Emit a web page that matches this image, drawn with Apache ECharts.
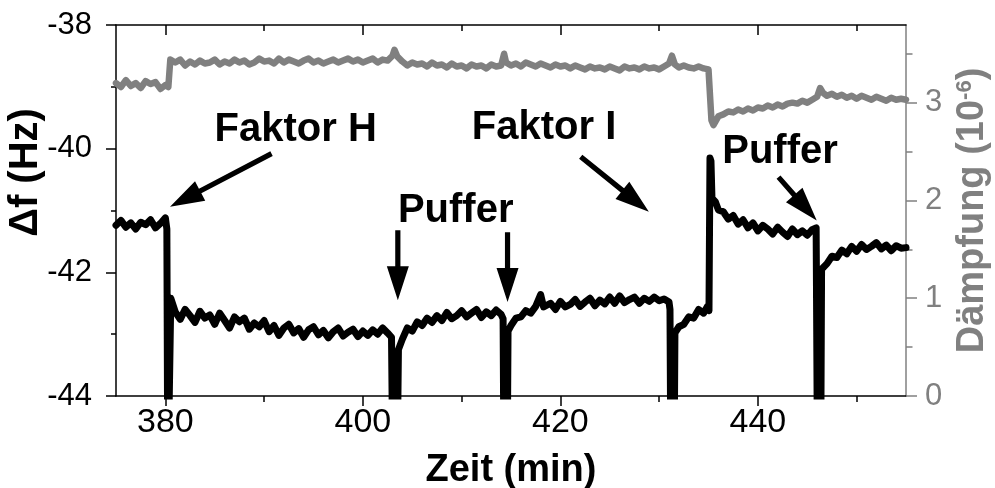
<!DOCTYPE html>
<html>
<head>
<meta charset="utf-8">
<script src="https://cdn.jsdelivr.net/npm/echarts@6/dist/echarts.min.js"></script>
<style>
  html, body { margin: 0; padding: 0; background: #fff; }
  #chart { width: 995px; height: 488px; }
</style>
</head>
<body>
<div id="chart"></div>
<script>
// Δf (Hz), linke Achse
const zeitDf = [
  375.0, 375.5, 376.0, 376.5, 377.0, 377.5, 378.0, 378.5, 379.0, 379.5, 380.0, 380.15, 380.25, 380.45, 380.55,
  381.0, 381.5, 382.0, 382.5, 383.0, 383.5, 384.0, 384.5, 385.0, 385.5, 386.0, 386.5, 387.0, 387.5, 388.0, 388.5,
  389.0, 389.5, 390.0, 390.5, 391.0, 391.5, 392.0, 392.5, 393.0, 393.5, 394.0, 394.5, 395.0, 395.5, 396.0, 396.5,
  397.0, 397.5, 398.0, 398.5, 399.0, 399.5, 400.0, 400.5, 401.0, 401.5, 402.0, 402.5, 402.9, 403.05, 403.45, 403.6,
  404.0, 404.5, 405.0, 405.5, 406.0, 406.5, 407.0, 407.5, 408.0, 408.5, 409.0, 409.5, 410.0, 410.5, 411.0, 411.5,
  412.0, 412.5, 413.0, 413.5, 414.0, 414.2, 414.3, 414.6, 414.7,
  415.0, 415.5, 416.0, 416.5, 417.0, 417.5, 418.0, 418.3, 418.5, 419.0, 419.5, 420.0, 420.5, 421.0, 421.5, 422.0,
  422.5, 423.0, 423.5, 424.0, 424.5, 425.0, 425.5, 426.0, 426.5, 427.0, 427.5, 428.0, 428.5, 429.0, 429.5, 430.0,
  430.5, 431.0, 431.1, 431.2, 431.5, 431.6,
  432.0, 432.5, 433.0, 433.5, 434.0, 434.5, 434.9, 435.05, 435.15, 435.25, 435.35, 435.7,
  436.0, 436.5, 437.0, 437.5, 438.0, 438.5, 439.0, 439.5, 440.0, 440.5, 441.0, 441.5, 442.0, 442.5, 443.0, 443.5,
  444.0, 444.5, 445.0, 445.5, 445.9, 446.05, 446.35, 446.45,
  447.0, 447.5, 448.0, 448.5, 449.0, 449.5, 450.0, 450.5, 451.0, 451.5, 452.0, 452.5, 453.0, 453.5, 454.0, 454.5, 455.0
];
const df = [
  -41.24, -41.16, -41.27, -41.20, -41.30, -41.19, -41.23, -41.15, -41.28, -41.21, -41.12, -41.30, -45.5, -45.5, -42.42,
  -42.64, -42.76, -42.60, -42.70, -42.81, -42.63, -42.74, -42.69, -42.84, -42.66, -42.78, -42.90, -42.72, -42.80, -42.74, -42.92,
  -42.82, -42.88, -42.78, -42.96, -42.86, -43.02, -42.90, -42.84, -42.98, -42.91, -43.05, -42.93, -42.88, -43.01, -42.94, -43.06,
  -42.96, -42.90, -43.03, -42.97, -42.92, -43.04, -42.95, -43.02, -42.93, -43.00, -42.90, -42.98, -43.05, -45.5, -45.5, -43.25,
  -43.08, -42.90, -42.95, -42.80, -42.86, -42.74, -42.81, -42.70, -42.78, -42.65, -42.75, -42.70, -42.62, -42.72, -42.66, -42.60,
  -42.73, -42.64, -42.70, -42.61, -42.68, -42.75, -45.5, -45.5, -42.95,
  -42.86, -42.74, -42.72, -42.62, -42.66, -42.55, -42.36, -42.56, -42.58, -42.50, -42.60, -42.47, -42.56, -42.52, -42.44, -42.55,
  -42.48, -42.42, -42.54, -42.45, -42.51, -42.40, -42.50, -42.38, -42.49, -42.44, -42.40, -42.50, -42.42, -42.47, -42.40, -42.46,
  -42.43, -42.48, -42.60, -45.5, -45.5, -42.98,
  -42.88, -42.84, -42.72, -42.74, -42.60, -42.66, -42.55, -42.62, -40.15, -40.20, -40.80, -40.86,
  -40.99, -41.02, -41.14, -41.08, -41.22, -41.15, -41.28, -41.20, -41.33, -41.24, -41.30, -41.38, -41.27, -41.35, -41.42, -41.30,
  -41.39, -41.33, -41.40, -41.31, -41.28, -45.5, -45.5, -41.95,
  -41.86, -41.74, -41.76, -41.64, -41.70, -41.58, -41.66, -41.55, -41.63, -41.58, -41.52, -41.62, -41.56, -41.65, -41.57, -41.61, -41.60
];

// Dämpfung (10^-6), rechte Achse
const zeitD = [
  375.0, 375.5, 376.0, 376.5, 377.0, 377.5, 378.0, 378.5, 379.0, 379.5, 380.0, 380.3, 380.5,
  381.0, 381.5, 382.0, 382.5, 383.0, 383.5, 384.0, 384.5, 385.0, 385.5, 386.0, 386.5, 387.0, 387.5, 388.0, 388.5,
  389.0, 389.5, 390.0, 390.5, 391.0, 391.5, 392.0, 392.5, 393.0, 393.5, 394.0, 394.5, 395.0, 395.5, 396.0, 396.5,
  397.0, 397.5, 398.0, 398.5, 399.0, 399.5, 400.0, 400.5, 401.0, 401.5, 402.0, 402.5, 403.0, 403.2, 403.5,
  404.0, 404.5, 405.0, 405.5, 406.0, 406.5, 407.0, 407.5, 408.0, 408.5, 409.0, 409.5, 410.0, 410.5, 411.0, 411.5,
  412.0, 412.5, 413.0, 413.5, 414.0, 414.3, 414.5,
  415.0, 415.5, 416.0, 416.5, 417.0, 417.5, 418.0, 418.5, 419.0, 419.5, 420.0, 420.5, 421.0, 421.5, 422.0, 422.5,
  423.0, 423.5, 424.0, 424.5, 425.0, 425.5, 426.0, 426.5, 427.0, 427.5, 428.0, 428.5, 429.0, 429.5, 430.0, 430.5,
  431.0, 431.3, 431.6, 432.0, 432.5, 433.0, 433.5, 434.0, 434.5, 435.0, 435.3, 435.5,
  436.0, 436.5, 437.0, 437.5, 438.0, 438.5, 439.0, 439.5, 440.0, 440.5, 441.0, 441.5, 442.0, 442.5, 443.0, 443.5,
  444.0, 444.5, 445.0, 445.5, 446.0, 446.3, 446.6,
  447.0, 447.5, 448.0, 448.5, 449.0, 449.5, 450.0, 450.5, 451.0, 451.5, 452.0, 452.5, 453.0, 453.5, 454.0, 454.5, 455.0
];
const daempfung = [
  3.20, 3.16, 3.23, 3.17, 3.20, 3.15, 3.22, 3.19, 3.21, 3.14, 3.18, 3.16, 3.44,
  3.41, 3.44, 3.38, 3.42, 3.39, 3.43, 3.40, 3.41, 3.44, 3.39, 3.42, 3.40, 3.44, 3.41, 3.43, 3.39,
  3.41, 3.45, 3.42, 3.43, 3.40, 3.45, 3.41, 3.44, 3.42, 3.40, 3.43, 3.45, 3.41, 3.43, 3.40, 3.42,
  3.44, 3.41, 3.43, 3.45, 3.42, 3.44, 3.41, 3.43, 3.45, 3.41, 3.44, 3.43, 3.48, 3.54, 3.47,
  3.42, 3.38, 3.41, 3.39, 3.40, 3.37, 3.41, 3.38, 3.39, 3.36, 3.40, 3.37, 3.38, 3.35, 3.39, 3.37,
  3.38, 3.35, 3.39, 3.37, 3.38, 3.50, 3.41,
  3.38, 3.40, 3.37, 3.41, 3.39, 3.37, 3.40, 3.38, 3.36, 3.39, 3.37, 3.38, 3.35, 3.38, 3.36, 3.34,
  3.37, 3.35, 3.36, 3.34, 3.37, 3.35, 3.33, 3.37, 3.35, 3.36, 3.34, 3.37, 3.35, 3.36, 3.34, 3.37,
  3.40, 3.48, 3.39, 3.36, 3.38, 3.36, 3.35, 3.37, 3.35, 3.34, 2.82, 2.77,
  2.86, 2.88, 2.91, 2.90, 2.93, 2.91, 2.94, 2.92, 2.95, 2.94, 2.97, 2.95, 2.98, 2.96, 2.99, 3.00,
  2.99, 3.02, 3.00, 3.03, 3.06, 3.15, 3.10,
  3.07, 3.09, 3.06, 3.08, 3.05, 3.07, 3.04, 3.07, 3.05, 3.03, 3.06, 3.04, 3.02, 3.05, 3.03, 3.04, 3.03
];

// Achsen-Ticks
const xMajor = [380, 400, 420, 440];
const xMinor = [390, 410, 430, 450];
const dMajor = [0, 1, 2, 3];
const dMinor = [0.5, 1.5, 2.5, 3.5];

// Beschriftungen: [Text, Zeit, Δf]
const labels = [
  ["Faktor H", 393.2, -39.69],
  ["Puffer", 409.4, -41.0],
  ["Faktor I", 418.35, -39.67],
  ["Puffer", 442.24, -40.05]
];
// Pfeile: [Zeit Anfang, Δf Anfang, Zeit Spitze, Δf Spitze]
const arrows = [
  [390.75, -40.08, 380.47, -40.94],
  [403.54, -41.32, 403.54, -42.45],
  [414.65, -41.35, 414.65, -42.48],
  [422.06, -40.13, 428.96, -41.02],
  [442.09, -40.46, 445.96, -41.16]
];

const FONT = "'Liberation Sans', Arial, sans-serif";
const GRAU = "#808080";

const chart = echarts.init(document.getElementById("chart"), null, { renderer: "canvas" });

const hidden = { show: false };

chart.setOption({
  backgroundColor: "#fff",
  animation: false,
  grid: { left: 116, right: 89, top: 25, bottom: 92, containLabel: false, outerBoundsMode: "none" },
  xAxis: [
    {
      type: "value", position: "bottom", min: 375, max: 455,
      axisLine: { show: true, onZero: false, lineStyle: { color: "#000", width: 1.5 } },
      axisTick: { show: true, customValues: xMajor, length: 10, lineStyle: { color: "#000", width: 1.5 } },
      axisLabel: { customValues: xMajor, fontSize: 34, color: "#000", fontFamily: FONT, margin: 10 },
      splitLine: hidden,
      name: "Zeit (min)", nameLocation: "middle", nameGap: 56, nameMoveOverlap: false,
      nameTextStyle: { fontSize: 38, fontWeight: "bold", color: "#000", fontFamily: FONT }
    },
    {
      type: "value", position: "bottom", min: 375, max: 455,
      axisLine: { show: false, onZero: false },
      axisTick: { show: true, customValues: xMinor, length: 6, lineStyle: { color: "#000", width: 1.5 } },
      axisLabel: hidden, splitLine: hidden
    },
    {
      type: "value", position: "top", min: 375, max: 455,
      axisLine: { show: true, onZero: false, lineStyle: { color: "#000", width: 1.5 } },
      axisTick: { show: true, inside: true, customValues: xMajor, length: 10, lineStyle: { color: "#000", width: 1.5 } },
      axisLabel: hidden, splitLine: hidden
    },
    {
      type: "value", position: "top", min: 375, max: 455,
      axisLine: { show: false, onZero: false },
      axisTick: { show: true, inside: true, customValues: xMinor, length: 6, lineStyle: { color: "#000", width: 1.5 } },
      axisLabel: hidden, splitLine: hidden
    }
  ],
  yAxis: [
    {
      type: "value", position: "left", min: -44, max: -38, interval: 2,
      axisLine: { show: true, onZero: false, lineStyle: { color: "#000", width: 1.5 } },
      axisTick: { show: true, length: 10, lineStyle: { color: "#000", width: 1.5 } },
      minorTick: { show: true, splitNumber: 2, length: 5, lineStyle: { color: "#000", width: 1.5 } },
      axisLabel: { fontSize: 31, color: "#000", fontFamily: FONT, margin: 24 },
      splitLine: hidden, minorSplitLine: hidden,
      name: "Δf (Hz)", nameLocation: "middle", nameGap: 70, nameRotate: 90, nameMoveOverlap: false,
      nameTextStyle: { fontSize: 40, fontWeight: "bold", color: "#000", fontFamily: FONT, padding: [0, 0, 0, 76] }
    },
    {
      type: "value", position: "right", min: 0, max: 3.794,
      axisLine: { show: true, onZero: false, lineStyle: { color: GRAU, width: 1.5 } },
      axisTick: { show: true, customValues: dMajor, length: 11, lineStyle: { color: GRAU, width: 1.5 } },
      axisLabel: { customValues: dMajor, fontSize: 31, color: GRAU, fontFamily: FONT, margin: 19 },
      splitLine: hidden,
      name: "Dämpfung (10{sup|-6})", nameLocation: "middle", nameGap: 48, nameRotate: 90, nameMoveOverlap: false,
      nameTextStyle: {
        fontSize: 38, fontWeight: "bold", color: GRAU, fontFamily: FONT,
        rich: { sup: { fontSize: 22, fontWeight: "bold", color: GRAU, fontFamily: FONT, verticalAlign: "top", lineHeight: 22 } }
      }
    },
    {
      type: "value", position: "right", min: 0, max: 3.794,
      axisLine: { show: false, onZero: false },
      axisTick: { show: true, customValues: dMinor, length: 6.5, lineStyle: { color: GRAU, width: 1.5 } },
      axisLabel: hidden, splitLine: hidden
    }
  ],
  series: [
    {
      name: "Dämpfung", type: "line", xAxisIndex: 0, yAxisIndex: 1,
      data: zeitD.map((t, i) => [t, daempfung[i]]),
      showSymbol: false, clip: true, z: 2,
      lineStyle: { color: GRAU, width: 6.5, join: "round", cap: "round" }
    },
    {
      name: "Δf", type: "line", xAxisIndex: 0, yAxisIndex: 0,
      data: zeitDf.map((t, i) => [t, df[i]]),
      showSymbol: false, clip: true, z: 3,
      lineStyle: { color: "#000", width: 7, join: "round", cap: "round" }
    }
  ]
});

// Pfeile und Texte über Datenkoordinaten platzieren
const toPx = (t, v) => chart.convertToPixel({ xAxisIndex: 0, yAxisIndex: 0 }, [t, v]);

function arrowShape(a) {
  const p0 = toPx(a[0], a[1]);
  const p1 = toPx(a[2], a[3]);
  const dx = p1[0] - p0[0], dy = p1[1] - p0[1];
  const len = Math.sqrt(dx * dx + dy * dy);
  const ux = dx / len, uy = dy / len;
  const nx = -uy, ny = ux;
  const w = 2.6, h = 11, L = 34;
  const b = [p1[0] - ux * L, p1[1] - uy * L];
  return [
    [p0[0] + nx * w, p0[1] + ny * w],
    [b[0] + nx * w, b[1] + ny * w],
    [b[0] + nx * h, b[1] + ny * h],
    p1,
    [b[0] - nx * h, b[1] - ny * h],
    [b[0] - nx * w, b[1] - ny * w],
    [p0[0] - nx * w, p0[1] - ny * w]
  ];
}

const graphic = [];
arrows.forEach(a => {
  graphic.push({
    type: "polygon", z: 100,
    shape: { points: arrowShape(a) },
    style: { fill: "#000", lineJoin: "round" }
  });
});
labels.forEach(l => {
  const p = toPx(l[1], l[2]);
  graphic.push({
    type: "text", z: 100, x: p[0], y: p[1],
    style: {
      text: l[0], fill: "#000", fontSize: 40, fontWeight: "bold", fontFamily: FONT,
      textAlign: "center", textVerticalAlign: "middle"
    }
  });
});
chart.setOption({ graphic });
</script>
</body>
</html>
